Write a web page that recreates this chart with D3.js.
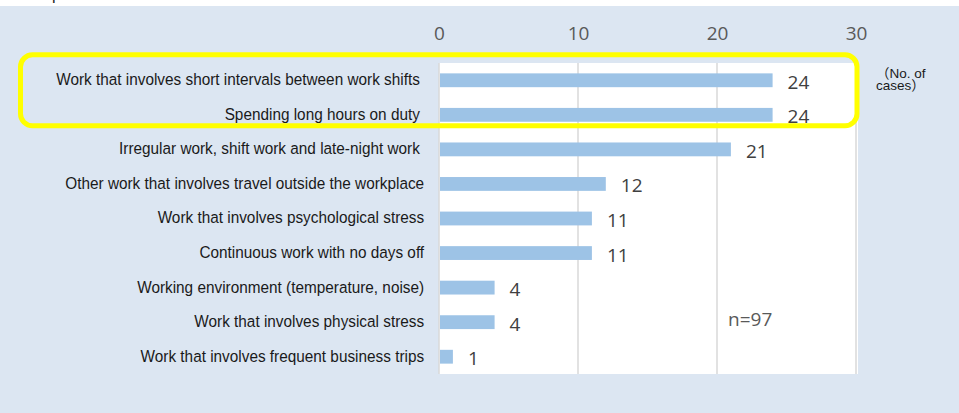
<!DOCTYPE html>
<html>
<head>
<meta charset="utf-8">
<script src="https://cdn.jsdelivr.net/npm/d3@7"></script>
<style>
  html, body { margin: 0; padding: 0; background: #fff; }
  svg { display: block; }
</style>
</head>
<body>
<div id="chart"></div>
<script>
const categories = [
  'Work that involves short intervals between work shifts ',
  'Spending long hours on duty ',
  'Irregular work, shift work and late-night work ',
  'Other work that involves travel outside the workplace',
  'Work that involves psychological stress',
  'Continuous work with no days off',
  'Working environment (temperature, noise)',
  'Work that involves physical stress',
  'Work that involves frequent business trips'
];
const cases = [24, 24, 21, 12, 11, 11, 4, 4, 1];
const ticks = [0, 10, 20, 30];
const highlighted = categories.slice(0, 2);
const unitLabel = ['（No. of', 'cases）'];
const sampleNote = 'n=97';

const width = 959, height = 413;
const plot = { left: 439, right: 856, top: 63, bottom: 374 };

const svg = d3.select('#chart')
  .append('svg')
  .attr('width', width)
  .attr('height', height);

// light blue panel under a thin white strip
svg.append('rect')
  .attr('x', 0).attr('y', 6)
  .attr('width', width).attr('height', height - 6)
  .attr('fill', '#dce6f2');

// bit of the cut-off title above the panel
svg.append('text')
  .attr('x', 52).attr('y', 0)
  .attr('font-family', 'Liberation Sans, Arial, sans-serif')
  .attr('font-size', 16)
  .attr('fill', '#222')
  .text('p');

svg.append('rect')
  .attr('x', plot.left).attr('y', plot.top)
  .attr('width', plot.right - plot.left + 2)
  .attr('height', plot.bottom - plot.top)
  .attr('fill', '#fff');

const x = d3.scaleLinear()
  .domain([0, 30])
  .range([plot.left, plot.right]);

const y = d3.scaleBand()
  .domain(categories)
  .range([plot.top, plot.bottom])
  .paddingInner(0.6)
  .paddingOuter(0.3);

// vertical grid lines
svg.append('g')
  .selectAll('line')
  .data(ticks)
  .join('line')
  .attr('x1', d => x(d)).attr('x2', d => x(d))
  .attr('y1', plot.top).attr('y2', plot.bottom)
  .attr('stroke', '#d9d9d9')
  .attr('stroke-width', 1.5);

// top axis, labels only
const xAxis = svg.append('g')
  .attr('transform', 'translate(0,40)')
  .call(d3.axisTop(x).tickValues(ticks).tickSize(0).tickPadding(0));
xAxis.select('.domain').remove();
xAxis.selectAll('text')
  .attr('font-family', 'Open Sans, sans-serif')
  .attr('font-size', 19)
  .attr('fill', '#595959');

// category labels, a little condensed like the original
const yAxis = svg.append('g')
  .attr('transform', `translate(${plot.left},0)`)
  .call(d3.axisLeft(y).tickSize(0).tickPadding(16));
yAxis.select('.domain').remove();
yAxis.selectAll('text')
  .attr('font-family', 'Liberation Sans, Arial, sans-serif')
  .attr('font-size', 16.5)
  .attr('fill', '#1a1a1a')
  .attr('dy', '0.3em')
  .attr('transform', 'scale(0.93,1)')
  .style('white-space', 'pre');

svg.append('g')
  .selectAll('rect')
  .data(cases)
  .join('rect')
  .attr('x', x(0) + 1)
  .attr('y', (d, i) => y(categories[i]))
  .attr('width', d => x(d) - x(0) - 1)
  .attr('height', y.bandwidth())
  .attr('fill', '#9dc3e6');

svg.append('g')
  .selectAll('text')
  .data(cases)
  .join('text')
  .attr('x', d => x(d) + 15)
  .attr('y', (d, i) => y(categories[i]) + y.bandwidth() / 2)
  .attr('dy', '0.45em')
  .attr('font-family', 'Open Sans, sans-serif')
  .attr('font-size', 19)
  .attr('fill', '#404040')
  .text(d => d);

svg.append('text')
  .attr('x', x(20) + 11)
  .attr('y', 326)
  .attr('font-family', 'Open Sans, sans-serif')
  .attr('font-size', 19)
  .attr('fill', '#595959')
  .text(sampleNote);

svg.append('g')
  .selectAll('text')
  .data(unitLabel)
  .join('text')
  .attr('x', 876)
  .attr('y', (d, i) => 78 + i * 12)
  .attr('font-family', 'Liberation Sans, Arial, Noto Sans CJK JP, sans-serif')
  .attr('font-size', 13.5)
  .attr('fill', '#1a1a1a')
  .text(d => d);

// yellow frame around the two top rows
const first = y(highlighted[0]), last = y(highlighted[highlighted.length - 1]);
svg.append('rect')
  .attr('x', 20.5)
  .attr('y', first - 18.5)
  .attr('width', plot.right + 1 - 20.5)
  .attr('height', last + y.bandwidth() - first + 22.5)
  .attr('rx', 12)
  .attr('fill', 'none')
  .attr('stroke', '#ffff00')
  .attr('stroke-width', 5);
</script>
</body>
</html>
